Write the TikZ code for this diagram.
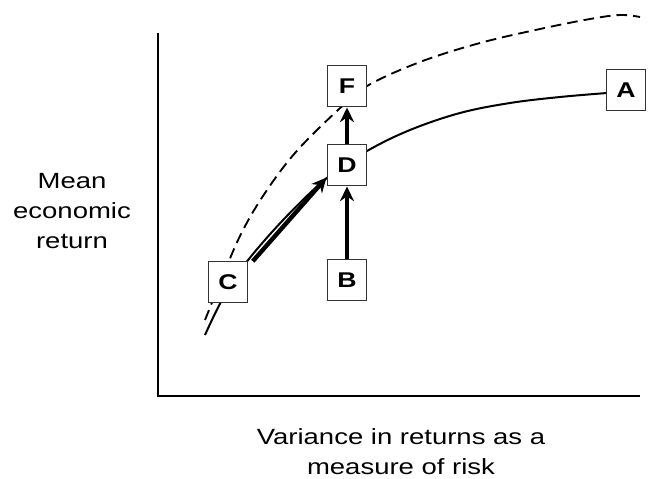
\documentclass[tikz,border=0pt]{standalone}
\usepackage{fontspec}
\setmainfont[FakeStretch=1.25]{Liberation Sans}
\usetikzlibrary{arrows.meta}

\begin{document}
\begin{tikzpicture}[
    x=0.75pt, y=-0.75pt,                    % <- pixel grid, y runs downwards
    option/.style={rectangle, draw=black!80, fill=white, line width=0.7pt,
                   minimum width=29.5pt, minimum height=30.5pt, inner sep=0pt,
                   font=\fontsize{16}{19}\selectfont\bfseries},
    axislbl/.style={font=\fontsize{16.5}{22.5}\selectfont, align=center, inner sep=0pt},
    frontier/.style={line width=1.5pt},
    potential/.style={line width=1.4pt, dash pattern=on 8pt off 4.5pt},
    move/.style={line width=3.3pt, -{Stealth[length=11pt, width=10.5pt]}, shorten >=0.5pt},
  ]
  \useasboundingbox (0,0) rectangle (648,478);

  % ---------- axes ----------
  \draw[line width=2.2pt] (158,33) -- (158,396) -- (640,396);

  % ---------- dashed (shifted) frontier ----------
  \draw[potential] plot[smooth, tension=0.6] coordinates {
    (205,320) (220,283) (240,236) (263,196) (295,153) (338,110) (367,86)
    (420,62) (480,43) (540,29) (590,19) (620,15) (640,17)};

  % ---------- solid frontier ----------
  \draw[frontier] plot[smooth, tension=0.6] coordinates {
    (205,335) (222,300) (245,264) (285,218) (328,177) (367,151)
    (410,130) (460,113) (510,103) (560,97) (607,93)};

  % ---------- options on the frontier ----------
  \node[option] (A) at (626,90)  {A};
  \node[option] (B) at (347,280) {B};
  \node[option] (C) at (228,282) {C};
  \node[option] (D) at (347,165) {D};
  \node[option] (F) at (347,86)  {F};

  % ---------- moves ----------
  \draw[move] ([xshift=3.5pt]C.north east) -- (D.211);
  \draw[move] (B.north) -- (D.south);
  \draw[move] (D.north) -- (F.south);

  % ---------- axis labels ----------
  \node[axislbl, anchor=north] (ylbl) at (72,173) {Mean\\economic\\return};
  \node[axislbl, anchor=north] (xlbl) at (401,428) {Variance in returns as a\\measure of risk};

\end{tikzpicture}
\end{document}
